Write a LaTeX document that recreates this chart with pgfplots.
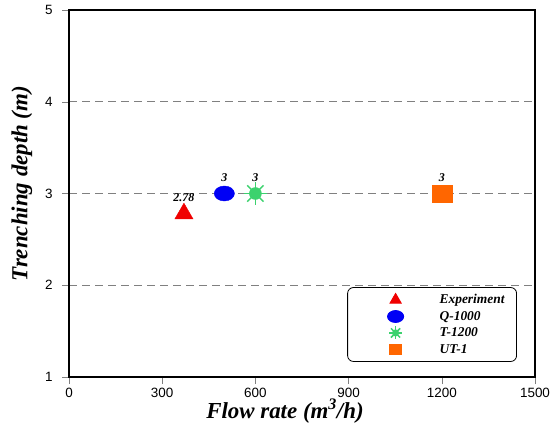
\documentclass[border=0pt]{standalone}
\usepackage{pgfplots}
\pgfplotsset{compat=1.18}
\usepackage{fontspec}
\setmainfont{Liberation Serif}
\newfontfamily\arial{Liberation Sans}
\usetikzlibrary{calc}
\definecolor{cred}{RGB}{240,0,0}
\definecolor{cblue}{RGB}{0,0,245}
\definecolor{cgreen}{RGB}{60,210,110}
\definecolor{corange}{RGB}{255,102,0}
\pgfdeclareplotmark{sun}{%
  \pgfpathcircle{\pgfpointorigin}{0.55\pgfplotmarksize}\pgfusepathqfill
  \foreach \a in {0,45,...,315}{%
    \pgfpathmoveto{\pgfpointorigin}%
    \pgfpathlineto{\pgfpointpolar{\a}{\pgfplotmarksize}}%
    \pgfusepathqstroke}%
}
\begin{document}
\begin{tikzpicture}[x=1bp,y=1bp]
\begin{axis}[
  scale only axis,
  width=466bp, height=367bp,
  xmin=0, xmax=1500, ymin=1, ymax=5,
  xtick={0,300,600,900,1200,1500},
  ytick={1,2,3,4,5},
  axis line style={line width=1.4pt},
  tick align=outside,
  tick pos=left,
  major tick length=7bp,
  tick style={gray, line width=0.5pt},
  ticklabel style={font=\arial\fontsize{13.5}{15}\selectfont, text=black},
  yticklabel style={xshift=-6bp},
  xticklabel style={yshift=-1bp},
  /pgf/number format/assume math mode=true,
  /pgf/number format/1000 sep={},
  ymajorgrids,
  grid style={gray, line width=0.6pt, dash pattern=on 8bp off 5bp},
  xlabel={\bfseries\itshape Flow rate (m\textsuperscript{3}/h)},
  ylabel={\bfseries\itshape Trenching depth (m)},
  label style={font=\fontsize{23}{26}\selectfont},
  xlabel style={yshift=6bp, xshift=-17bp},
  ylabel style={yshift=6bp, xshift=10bp},
  legend style={at={(rel axis cs:0.597,0.245)}, anchor=north west,
    draw=black, line width=0.8pt, rounded corners=6pt,
    font=\bfseries\itshape\fontsize{13.5}{15}\selectfont,
    inner xsep=8bp, inner ysep=5bp,
    row sep=2bp,
    nodes={text width=67bp},
    /tikz/every odd column/.append style={column sep=22bp}},
  legend cell align=left,
  legend image code/.code={%
    \path[use as bounding box, draw=none, fill=none] (-40bp,-7bp) rectangle (20bp,7bp);
    \draw[only marks,#1] plot coordinates {(0bp,0bp)};},
  nodes near coords,
  point meta=explicit symbolic,
  every node near coord/.append style={font=\bfseries\itshape\fontsize{12}{14}\selectfont, text=black, anchor=center, yshift=16bp, text width=, inner sep=0pt},
]
\addplot[only marks, mark=triangle*, mark size=10.5bp, color=cred,
  legend image post style={mark size=6.5bp}]
  coordinates {(370,2.78) [2.78]};
\addlegendentry{Experiment}
\addplot[only marks, mark=*, mark size=7.5bp, color=cblue, mark options={xscale=1.35},
  legend image post style={mark size=6bp}]
  coordinates {(500,3) [3]};
\addlegendentry{Q-1000}
\addplot[only marks, mark=sun, mark size=11.5bp, color=cgreen, mark options={line width=1.5pt},
  legend image post style={mark size=6.5bp}]
  coordinates {(600,3) [3]};
\addlegendentry{T-1200}
\addplot[only marks, mark=square*, mark size=10bp, color=corange, mark options={yscale=0.82},
  legend image post style={mark size=6bp}]
  coordinates {(1200,3) [3]};
\addlegendentry{UT-1}
\coordinate (SW) at (rel axis cs:0,0);
\coordinate (NE) at (rel axis cs:1,1);
\end{axis}
\pgfresetboundingbox
\path ($(SW)+(-69bp,-57bp)$) rectangle ($(NE)+(17bp,10bp)$);
\end{tikzpicture}
\end{document}
